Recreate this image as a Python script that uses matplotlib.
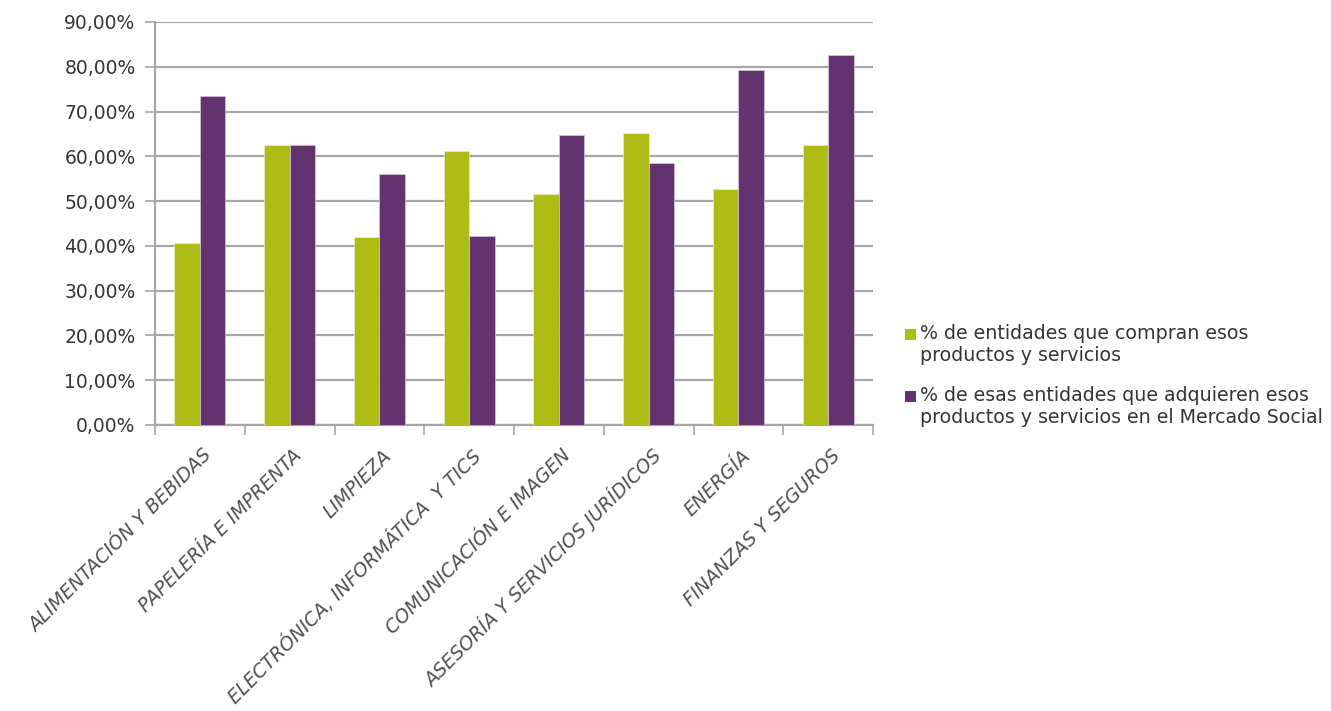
import matplotlib
matplotlib.use("Agg")
import matplotlib.pyplot as plt
import numpy as np
from matplotlib.patches import Rectangle
from matplotlib.ticker import FuncFormatter

categories = ["ALIMENTACIÓN Y BEBIDAS", "PAPELERÍA E IMPRENTA", "LIMPIEZA",
              "ELECTRÓNICA, INFORMÁTICA  Y TICS", "COMUNICACIÓN E IMAGEN",
              "ASESORÍA Y SERVICIOS JURÍDICOS", "ENERGÍA", "FINANZAS Y SEGUROS"]
compran = [40.6, 62.5, 42.0, 61.1, 51.6, 65.3, 52.6, 62.6]
mercado_social = [73.5, 62.5, 56.0, 42.2, 64.8, 58.6, 79.2, 82.6]
series_names = ["% de entidades que compran esos\nproductos y servicios",
                "% de esas entidades que adquieren esos\nproductos y servicios en el Mercado Social"]

green = "#aebd16"
purple = "#62336f"
grid_col = "#a6a6a6"
text_col = "#353535"

W, H = 1331, 711
fig = plt.figure(figsize=(W / 100, H / 100), dpi=100)
ax = fig.add_axes([155 / W, 1 - 425 / H, (873 - 155) / W, (425 - 22) / H])

x = np.arange(len(categories))
w = 0.285
b1 = ax.bar(x - w / 2, compran, w, color=green, edgecolor="#e8eec0", linewidth=0.5, zorder=3)
b2 = ax.bar(x + w / 2, mercado_social, w, color=purple, edgecolor="#d9c8de", linewidth=0.5, zorder=3)

ax.set_xlim(-0.5, len(categories) - 0.5)
ax.set_ylim(0, 90)
ax.set_yticks(np.arange(0, 91, 10))
ax.yaxis.set_major_formatter(FuncFormatter(lambda v, p: f"{v:.2f}%".replace(".", ",")))
ax.yaxis.grid(True, color=grid_col, linewidth=1.6, zorder=0)
ax.set_axisbelow(True)

for s in ["top", "right"]:
    ax.spines[s].set_visible(False)
for s in ["left", "bottom"]:
    ax.spines[s].set_color(grid_col)
    ax.spines[s].set_linewidth(1.6)

ax.tick_params(axis="y", length=7, width=1.2, color=grid_col, labelsize=13.5,
               labelcolor=text_col, pad=7)
# category ticks sit between groups
ax.set_xticks(np.arange(-0.5, len(categories) + 0.5, 1.0))
ax.set_xticklabels([])
ax.tick_params(axis="x", length=7, width=1.2, color=grid_col)
for i, name in enumerate(categories):
    ax.text(i + 0.1, -6.2, name, rotation=45, ha="right", va="center",
            rotation_mode="anchor", fontsize=13.7, style="italic",
            color="#505050")

# legend: square next to the first line, text anchored on the last line's baseline
legend_rows = [(green, 340, 361), (purple, 402, 423)]
for (col, sq, base), label in zip(legend_rows, series_names):
    fig.patches.append(Rectangle((905 / W, 1 - sq / H), 11 / W, 11 / H,
                                 transform=fig.transFigure, facecolor=col,
                                 edgecolor="none"))
    fig.text(920 / W, 1 - base / H, label, ha="left", va="baseline",
             fontsize=13.7, color=text_col)

fig.savefig("out.png", dpi=100)
